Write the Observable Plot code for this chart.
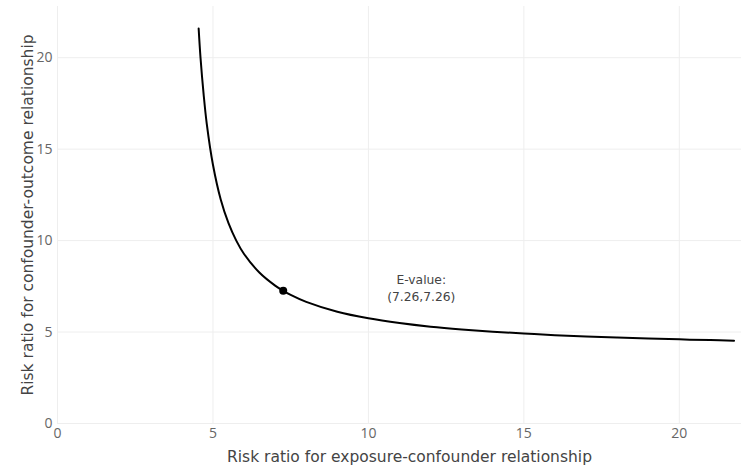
<!DOCTYPE html>
<html>
<head>
<meta charset="utf-8">
<script src="https://cdn.jsdelivr.net/npm/d3@7"></script>
<script src="https://cdn.jsdelivr.net/npm/@observablehq/plot@0.6"></script>
<style>
  html, body { margin: 0; padding: 0; background: #fff; }
  #chart svg { display: block; }
</style>
</head>
<body>
<div id="chart"></div>
<script>
// Curve values
const rrExposure = [4.54, 4.6, 4.7, 4.8, 5.0, 5.25, 5.5, 5.75, 6.0, 6.5, 7.0, 7.26, 7.5, 8, 9, 10, 11, 12, 13, 14, 15, 16, 17, 18, 19, 20, 21, 21.76];
const rrOutcome  = [21.6, 20.0, 18.0, 16.4, 14.15, 12.25, 10.95, 10.0, 9.27, 8.24, 7.54, 7.26, 7.03, 6.65, 6.11, 5.75, 5.49, 5.29, 5.14, 5.02, 4.92, 4.83, 4.76, 4.70, 4.65, 4.60, 4.56, 4.53];
const eValue = [7.26];
const annotationText = ["E-value:\n(7.26,7.26)"];
const annotationPos = { x: [11.7], y: [7.45] };
const xTicks = [0, 5, 10, 15, 20];
const yTicks = [0, 5, 10, 15, 20];

const curve = rrExposure.map((x, i) => ({ x, y: rrOutcome[i] }));
const point = eValue.map(v => ({ x: v, y: v }));
const note = annotationText.map((t, i) => ({ t, x: annotationPos.x[i], y: annotationPos.y[i] }));

const font = "'Open Sans', sans-serif";
const titleFont = "'DejaVu Sans', sans-serif";

const chart = Plot.plot({
  width: 756,
  height: 470,
  marginLeft: 57,
  marginRight: 15,
  marginTop: 6,
  marginBottom: 47,
  style: { fontFamily: font, background: "#fff" },
  x: { domain: [0, 22], ticks: xTicks },
  y: { domain: [0, 22.8], ticks: yTicks },
  marks: [
    Plot.gridX(xTicks, { stroke: "#eeeeee", strokeOpacity: 1, strokeWidth: 1 }),
    Plot.gridY(yTicks, { stroke: "#eeeeee", strokeOpacity: 1, strokeWidth: 1 }),
    Plot.axisX(xTicks, {
      tickSize: 0, tickPadding: 5, fontSize: 14, color: "#666",
      label: "Risk ratio for exposure-confounder relationship",
      labelAnchor: "center", labelArrow: "none", labelOffset: 38
    }),
    Plot.axisY(yTicks, {
      tickSize: 0, tickPadding: 5, fontSize: 14, color: "#666",
      label: "Risk ratio for confounder-outcome relationship",
      labelAnchor: "center", labelArrow: "none", labelOffset: 36
    }),
    Plot.line(curve, { x: "x", y: "y", stroke: "#000", strokeWidth: 2, curve: "catmull-rom" }),
    Plot.dot(point, { x: "x", y: "y", r: 4, fill: "#000", stroke: "none" }),
    Plot.text(note, { x: "x", y: "y", text: "t", fontSize: 12.3, fontFamily: titleFont, fill: "#444", lineHeight: 1.35 })
  ]
});

// Style axis titles to match reference size and face
chart.querySelectorAll("[aria-label='x-axis label'] text, [aria-label='y-axis label'] text").forEach(t => {
  t.setAttribute("font-size", "15.5");
  t.style.fontSize = "15.5px";
  t.style.fontFamily = titleFont;
  t.setAttribute("fill", "#444");
});
const xLabel = chart.querySelector("[aria-label='x-axis label']");
if (xLabel) {
  const prev = xLabel.getAttribute("transform") || "";
  xLabel.setAttribute("transform", (prev + " translate(10,0)").trim());
}
document.getElementById("chart").appendChild(chart);
</script>
</body>
</html>
